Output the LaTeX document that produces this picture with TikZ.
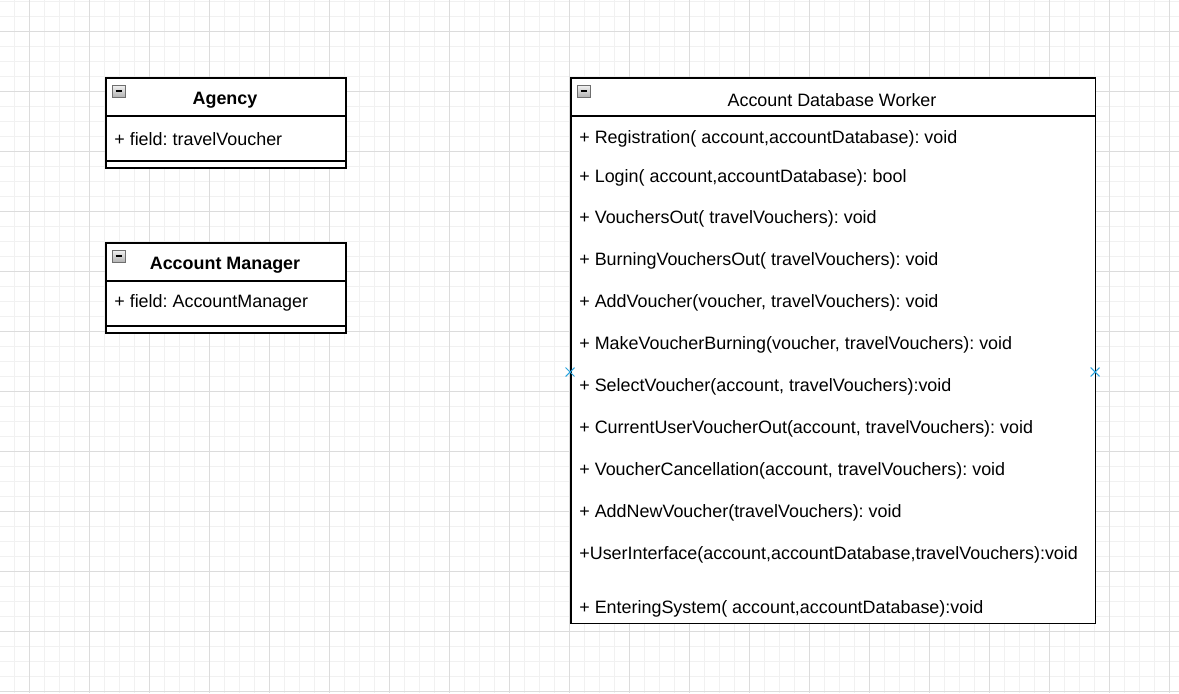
\documentclass[tikz,border=0pt]{standalone}
\usepackage{fontspec}
\setmainfont{Liberation Sans}
\usepackage{xcolor}

\definecolor{gridminor}{HTML}{F1F1F1}
\definecolor{gridmajor}{HTML}{DCDCDC}
\definecolor{iconborder}{HTML}{6E6E6E}
\definecolor{markblue}{HTML}{2AA3DD}

\begin{document}
\frenchspacing
\begin{tikzpicture}[x=0.02cm, y=-0.02cm, font=\fontsize{10.2}{12}\selectfont,
	classbox/.style={draw, line width=0.9pt, rectangle, anchor=north west, inner sep=0pt},
	boxline/.style={line width=0.9pt},
	member/.style={anchor=west, inner sep=0pt},
	title/.style={inner sep=0pt},
	minusicon/.style={draw=iconborder, line width=0.5pt, top color=gray!10, bottom color=gray!60, minimum width=0.26cm, minimum height=0.24cm, inner sep=0pt}]
	
	% Hintergrund
	\useasboundingbox (0,0) rectangle (1179,693);
	\fill[white] (0,0) rectangle (1179,693);
	\foreach \x in {14,29,...,1179} \draw[gridminor, line width=0.5pt] (\x,0) -- (\x,693);
	\foreach \y in {1,16,...,693} \draw[gridminor, line width=0.5pt] (0,\y) -- (1179,\y);
	\foreach \x in {29,89,...,1179} \draw[gridmajor, line width=0.5pt] (\x,0) -- (\x,693);
	\foreach \y in {31,91,...,693} \draw[gridmajor, line width=0.5pt] (0,\y) -- (1179,\y);
	
	% Agency
	\node[classbox, fill=white, minimum width=4.8cm, minimum height=1.8cm] (agency) at (105,77) {};
	\draw[boxline] (105,116) -- (345,116);
	\draw[boxline] (105,161) -- (345,161);
	\node[minusicon] (agencyicon) at (119,91) {};
	\draw[line width=1.1pt] ([xshift=2pt]agencyicon.west) -- ([xshift=-2pt]agencyicon.east);
	\node[title] (agencytitle) at (225,100) {\textbf{Agency}};
	\node[member] (agencyfield) at (114,139) {+ field: travelVoucher};
	
	% Account Manager
	\node[classbox, fill=white, minimum width=4.8cm, minimum height=1.8cm] (manager) at (105,242) {};
	\draw[boxline] (105,281) -- (345,281);
	\draw[boxline] (105,326) -- (345,326);
	\node[minusicon] (managericon) at (119,256) {};
	\draw[line width=1.1pt] ([xshift=2pt]managericon.west) -- ([xshift=-2pt]managericon.east);
	\node[title] (managertitle) at (225,265) {\textbf{Account Manager}};
	\node[member] (managerfield) at (114,303) {+ field: AccountManager};
	
	% Account Database Worker
	\node[classbox, fill=white, minimum width=10.5cm, minimum height=10.92cm] (worker) at (570,77) {};
	\draw[boxline] (570,116) -- (1095,116);
	\node[minusicon] (workericon) at (584,91) {};
	\draw[line width=1.1pt] ([xshift=2pt]workericon.west) -- ([xshift=-2pt]workericon.east);
	\node[title] (workertitle) at (832,100) {Account Database Worker};
	\node[member] (m1) at (579,139) {+ Registration( account,accountDatabase): void};
	\node[member] (m2) at (579,178) {+ Login( account,accountDatabase): bool};
	\node[member] (m3) at (579,219) {+ VouchersOut( travelVouchers): void};
	\node[member] (m4) at (579,261) {+ BurningVouchersOut( travelVouchers): void};
	\node[member] (m5) at (579,303) {+ AddVoucher(voucher, travelVouchers): void};
	\node[member] (m6) at (579,345) {+ MakeVoucherBurning(voucher, travelVouchers): void};
	\node[member] (m7) at (579,387) {+ SelectVoucher(account, travelVouchers):void};
	\node[member] (m8) at (579,429) {+ CurrentUserVoucherOut(account, travelVouchers): void};
	\node[member] (m9) at (579,471) {+ VoucherCancellation(account, travelVouchers): void};
	\node[member] (m10) at (579,513) {+ AddNewVoucher(travelVouchers): void};
	\node[member] (m11) at (579,555) {+UserInterface(account,accountDatabase,travelVouchers):void};
	\node[member] (m12) at (579,609) {+ EnteringSystem( account,accountDatabase):void};
	
	% Markierungen
	\foreach \mx/\name in {570/markleft, 1095/markright} {
		\coordinate (\name) at (\mx,372);
		\draw[markblue, line width=0.6pt] ([shift={(-2.5pt,-2.5pt)}]\name) -- ([shift={(2.5pt,2.5pt)}]\name);
		\draw[markblue, line width=0.6pt] ([shift={(-2.5pt,2.5pt)}]\name) -- ([shift={(2.5pt,-2.5pt)}]\name);
	}
	
\end{tikzpicture}
\end{document}
